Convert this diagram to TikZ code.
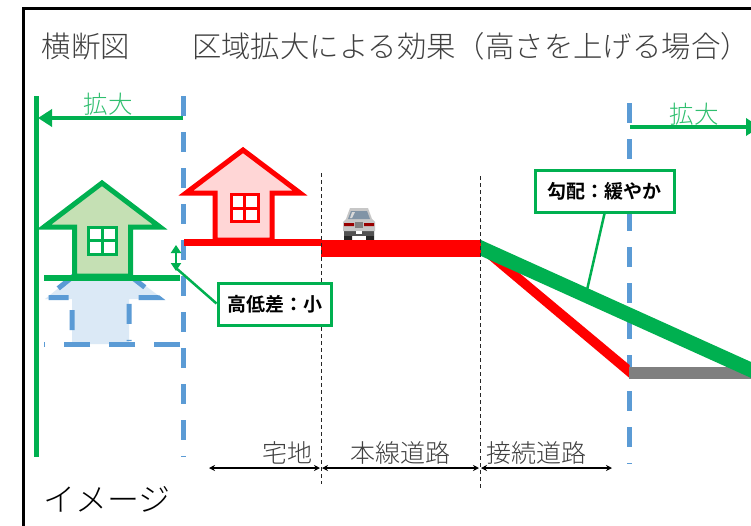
\documentclass[tikz,border=0pt]{standalone}
\usepackage{fontspec}
\setmainfont{Noto Sans CJK JP Light}[BoldFont=Noto Sans CJK JP Bold]
\usetikzlibrary{arrows.meta}

\definecolor{kgreen}{HTML}{00B050}
\definecolor{kgreenfill}{HTML}{C5E0B4}
\definecolor{kblue}{HTML}{5B9BD5}
\definecolor{kred}{HTML}{FF0000}
\definecolor{kgray}{HTML}{7F7F7F}
\definecolor{ktext}{HTML}{404040}
\definecolor{kgreentext}{HTML}{2FBF6F}

\tikzset{
    titlelabel/.style={text=ktext,font=\fontsize{29.4}{29.4}\selectfont,inner sep=0pt},
    zonelabel/.style={text=ktext,font=\fontsize{25}{25}\selectfont,inner sep=0pt},
    widenlabel/.style={text=kgreentext,font=\fontsize{24.5}{24.5}\selectfont,inner sep=0pt},
    notebox/.style={draw=kgreen,line width=3pt,fill=white,inner sep=0pt,font=\bfseries\fontsize{19}{19}\selectfont},
    bluedash/.style={draw=kblue,line width=5pt,dash pattern=on 20pt off 16pt},
    zonetick/.style={draw=black!85,line width=1pt,dash pattern=on 4pt off 3pt},
    zonearrow/.style={draw=black,line width=1.3pt,{Stealth[length=6pt,width=6pt]}-{Stealth[length=6pt,width=6pt]}},
    widenarrow/.style={draw=kgreen,line width=4.5pt,-{Triangle[length=14pt,width=17pt]}}
}

\begin{document}
\begin{tikzpicture}[x=1pt,y=-1pt]
\clip (0,0) rectangle (751,525);
\fill[white] (0,0) rectangle (751,525);

% frame
\draw[black,line width=3pt] (23,530) -- (23,8.5) -- (760,8.5);

% texts
\node[titlelabel] (crosstitle) at (86,46) {横断図};
\node[titlelabel] (maintitle) at (471,46) {区域拡大による効果（高さを上げる場合）};
\node[text=black,font=\fontsize{32}{32}\selectfont,inner sep=0pt] (image) at (107,499) {イメージ};

% zone limits
\coordinate (blueLtop) at (183.5,96);
\coordinate (blueLbot) at (183.5,457);
\coordinate (blueRtop) at (629,103);
\coordinate (blueRbot) at (629,464);
\coordinate (wallTop) at (36,96);
\coordinate (wallBot) at (36,457);
\draw[bluedash] (blueLtop) -- (blueLbot);
\draw[bluedash] (blueRtop) -- (blueRbot);
\draw[kgreen,line width=5pt] (wallTop) -- (wallBot);

% old house
\fill[kblue!22] (102,253) -- (163,299) -- (129,299) -- (129,344) -- (72,344) -- (72,299) -- (45,299) -- cycle;
\draw[bluedash] (129,275) -- (158,297.5) -- (129,297.5) -- (129,341);
\draw[bluedash] (72,330) -- (72,297.5) -- (47,297.5) -- (102,253);
\draw[draw=kblue,line width=5pt,dash pattern=on 26pt off 19pt] (180,344) -- (44,344);

% green house
\draw[draw=kgreen,fill=kgreenfill,line width=5pt,miter limit=10]
    (102,183) -- (160,227) -- (130.5,227) -- (130.5,276) -- (74.5,276) -- (74.5,227) -- (44,227) -- cycle;
\draw[kgreen,line width=3pt,fill=white] (88.5,227.5) rectangle (116,254);
\draw[kgreen,line width=3pt] (102.25,227.5) -- (102.25,254) (88.5,240.75) -- (116,240.75);
\draw[kgreen,line width=6pt] (44,278) -- (180,278);

% red house
\draw[draw=kred,fill=kred!16,line width=5pt,miter limit=10]
    (243,150) -- (300,193) -- (272,193) -- (272,240) -- (215,240) -- (215,193) -- (186,193) -- cycle;
\draw[kred,line width=3pt,fill=white] (231,194.5) rectangle (258,221.5);
\draw[kred,line width=3pt] (244.5,194.5) -- (244.5,221.5) (231,208) -- (258,208);
\draw[kred,line width=6.5pt] (184,242.5) -- (321,242.5);

% car
\fill[black!85] (344,230) rectangle (352,240) (366,230) rectangle (374,240);
\fill[black!68] (344,230) rectangle (374,236);
\fill[black!22] (350,208) -- (368,208) -- (372,219) -- (375,222) -- (375,231) -- (343,231) -- (343,222) -- (346,219) -- cycle;
\fill[kblue!50!black!60] (351,211) -- (367,211) -- (370,219) -- (348,219) -- cycle;
\fill[white!85!black] (352,212) -- (355,212) -- (352,218) -- (350,218) -- cycle;
\fill[kred!60!black] (344,223) rectangle (354,226) (364,223) rectangle (374,226);
\fill[black!50] (355,222) rectangle (363,228);
\fill[white] (356,231) rectangle (362,234);

% road
\fill[kred] (321,240) rectangle (481,257);
\fill[kred] (481,241) -- (629.5,365) -- (629.5,378) -- (481,253) -- cycle;
\fill[kgray] (629,367) rectangle (760,379);
\fill[kgreen] (481,240) -- (760,366) -- (760,382) -- (481,256) -- cycle;

% widening
\coordinate (widenLfrom) at (183,118);
\coordinate (widenLto) at (38,118);
\coordinate (widenRfrom) at (630,127);
\coordinate (widenRto) at (760,127);
\draw[widenarrow] (widenLfrom) -- (widenLto);
\draw[widenarrow] (widenRfrom) -- (widenRto);
\node[widenlabel] (widenL) at (108,104) {拡大};
\node[widenlabel] (widenR) at (694,114) {拡大};

% zone limits and widths
\coordinate (tickAtop) at (321,173);
\coordinate (tickAbot) at (321,484);
\coordinate (tickBtop) at (480,176);
\coordinate (tickBbot) at (480,488);
\coordinate (zoneA) at (209,468);
\coordinate (zoneB) at (320,468);
\coordinate (zoneC) at (322,468);
\coordinate (zoneD) at (479,468);
\coordinate (zoneE) at (481,468);
\coordinate (zoneF) at (612,468);
\draw[zonetick] (tickAtop) -- (tickAbot);
\draw[zonetick] (tickBtop) -- (tickBbot);
\draw[zonearrow] (zoneA) -- (zoneB);
\draw[zonearrow] (zoneC) -- (zoneD);
\draw[zonearrow] (zoneE) -- (zoneF);
\node[zonelabel] (lot) at (287,453) {宅地};
\node[zonelabel] (mainroad) at (400,453) {本線道路};
\node[zonelabel] (linkroad) at (536,453) {接続道路};

% notes
\coordinate (stepTop) at (176,245);
\coordinate (stepBot) at (176,271);
\coordinate (stepEnd) at (176,268);
\coordinate (slopeEnd) at (587,290);
\draw[kgreen,line width=2.5pt,{Triangle[length=8pt,width=10pt]}-{Triangle[length=8pt,width=10pt]}] (stepTop) -- (stepBot);
\node[notebox,minimum width=113pt,minimum height=42pt] (lownote) at (274.5,304.5) {高低差：小};
\node[notebox,minimum width=139pt,minimum height=42pt] (slopenote) at (604.5,191) {勾配：緩やか};
\draw[kgreen,line width=2.5pt] (lownote.west) ++(0,-1) -- (stepEnd);
\draw[kgreen,line width=2.5pt] (slopenote.south) -- (slopeEnd);
\end{tikzpicture}
\end{document}
